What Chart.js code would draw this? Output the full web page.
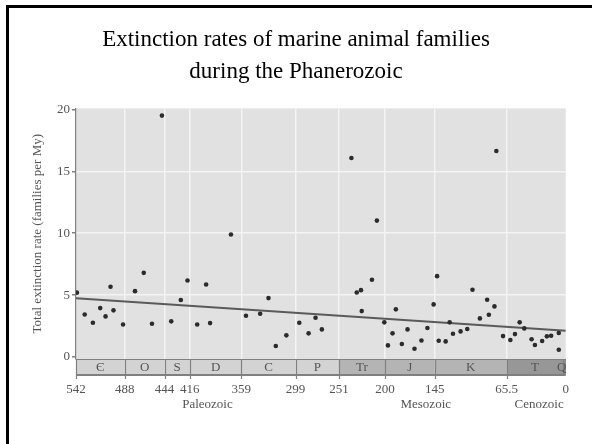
<!DOCTYPE html>
<html>
<head>
<meta charset="utf-8">
<script src="https://cdn.jsdelivr.net/npm/chart.js@4/dist/chart.umd.min.js"></script>
<style>
  body { margin: 0; background: #fff; }
  canvas { display: block; }
</style>
</head>
<body>
<canvas id="myChart" width="592" height="444"></canvas>
<script>
// ages in My before present, extinction rate in families per My
var ages = [541, 532.4, 523.3, 515.2, 509.3, 503.8, 500.5, 489.9, 476.7, 467,
  457.9, 446.9, 436.6, 426, 418.6, 407.9, 398, 393.6, 370.5, 353.9,
  338.2, 329, 320.9, 309.2, 294.9, 284.6, 276.9, 269.9, 237.2, 231.3,
  226.6, 225.8, 214.5, 209, 200.8, 196.8, 191.7, 188, 181.4, 175.1,
  167.4, 159.7, 153.1, 146.2, 142.4, 140.6, 132.9, 128.5, 124.8, 116.4,
  109, 103.2, 95, 87, 85.1, 78.9, 76.8, 69.4, 61.3, 56.2,
  51, 45.9, 37.8, 34.1, 26.1, 20.9, 16.2, 7.7, 7.7];
var rates = [5.2, 3.44, 2.77, 3.95, 3.28, 5.67, 3.77, 2.63, 5.32, 6.8,
  2.69, 19.5, 2.88, 4.6, 6.18, 2.63, 5.86, 2.74, 9.9, 3.33,
  3.49, 4.76, 0.89, 1.75, 2.77, 1.91, 3.17, 2.23, 16.08, 5.21,
  5.4, 3.71, 6.24, 11.02, 2.8, 0.94, 1.91, 3.85, 1.05, 2.23,
  0.67, 1.34, 2.34, 4.25, 6.53, 1.31, 1.26, 2.8, 1.88, 2.07,
  2.26, 5.43, 3.12, 4.62, 3.41, 4.09, 16.64, 1.69, 1.37, 1.85,
  2.8, 2.31, 1.43, 0.97, 1.29, 1.67, 1.72, 1.94, 0.59];

// fitted trend line
var trendAges = [542, 0];
var trendRates = [4.75, 2.12];

// geologic periods
var periodNames = ['Є', 'O', 'S', 'D', 'C', 'P', 'Tr', 'J', 'K', 'T', 'Q'];
var periodStart = [542, 488, 444, 416, 359, 299, 251, 200, 145, 65.5, 2.6];
var periodEnd = [488, 444, 416, 359, 299, 251, 200, 145, 65.5, 2.6, 0];
var periodEra = [0, 0, 0, 0, 0, 0, 1, 1, 1, 2, 2];

var eraNames = ['Paleozoic', 'Mesozoic', 'Cenozoic'];
var eraStart = [542, 251, 65.5];
var eraEnd = [251, 65.5, 0];
var eraColors = ['#d3d3d3', '#b4b4b4', '#979797'];

var xTicks = [542, 488, 444, 416, 359, 299, 251, 200, 145, 65.5, 0];
var yTicks = [0, 5, 10, 15, 20];

var serif = "'Liberation Serif', 'DejaVu Serif', serif";

var points = ages.map(function (a, i) { return { x: a, y: rates[i] }; });
var trend = trendAges.map(function (a, i) { return { x: a, y: trendRates[i] }; });

var bandTop = 359, bandBottom = 375;

var decorPlugin = {
  id: 'decor',
  beforeDraw: function (chart) {
    var ctx = chart.ctx, a = chart.chartArea;
    ctx.save();
    // frame
    ctx.fillStyle = '#000';
    ctx.fillRect(6, 5, 586, 3);
    ctx.fillRect(6, 5, 3, 439);
    // plot background
    ctx.fillStyle = '#e1e1e1';
    ctx.fillRect(a.left, a.top, a.right - a.left, a.bottom - a.top);
    ctx.restore();
  },
  afterDraw: function (chart) {
    var ctx = chart.ctx, x = chart.scales.x;
    ctx.save();
    var left = x.getPixelForValue(542), right = x.getPixelForValue(0);
    // period band
    for (var i = 0; i < periodNames.length; i++) {
      var x0 = x.getPixelForValue(periodStart[i]);
      var x1 = x.getPixelForValue(periodEnd[i]);
      ctx.fillStyle = eraColors[periodEra[i]];
      ctx.fillRect(x0, bandTop, x1 - x0, bandBottom - bandTop);
    }
    ctx.strokeStyle = '#808080';
    ctx.lineWidth = 1;
    ctx.beginPath();
    ctx.moveTo(left, bandTop + 0.5);
    ctx.lineTo(right, bandTop + 0.5);
    ctx.moveTo(right - 0.5, bandTop);
    ctx.lineTo(right - 0.5, bandBottom);
    ctx.stroke();
    ctx.lineWidth = 2;
    ctx.beginPath();
    ctx.moveTo(left, bandBottom);
    ctx.lineTo(right, bandBottom);
    ctx.stroke();
    // boundaries with ticks below the band
    ctx.lineWidth = 1.2;
    ctx.beginPath();
    for (var j = 1; j < periodStart.length; j++) {
      var bx = Math.round(x.getPixelForValue(periodStart[j])) + 0.5;
      var bottom = periodStart[j] === 2.6 ? bandBottom : bandBottom + 4;
      ctx.moveTo(bx, bandTop);
      ctx.lineTo(bx, bottom);
    }
    ctx.moveTo(left + 0.5, bandTop);
    ctx.lineTo(left + 0.5, bandBottom + 4);
    ctx.stroke();
    // period labels
    ctx.fillStyle = '#555';
    ctx.font = '13px ' + serif;
    ctx.textAlign = 'center';
    ctx.textBaseline = 'middle';
    for (var k = 0; k < periodNames.length; k++) {
      var cx = x.getPixelForValue((periodStart[k] + periodEnd[k]) / 2);
      if (periodNames[k] === 'Q') cx -= 3;
      ctx.fillText(periodNames[k], cx, (bandTop + bandBottom) / 2 + 0.5);
    }
    // era labels
    for (var e = 0; e < eraNames.length; e++) {
      var ex = x.getPixelForValue((eraStart[e] + eraEnd[e]) / 2);
      if (e > 0) ex += 3;
      ctx.fillText(eraNames[e], ex, 405);
    }
    ctx.restore();
  }
};

var context = document.getElementById('myChart').getContext('2d');
var myChart = new Chart(context, {
  type: 'scatter',
  data: {
    datasets: [
      {
        label: 'extinction rate',
        data: points,
        backgroundColor: '#2b2b2b',
        borderWidth: 0,
        pointRadius: 2.3,
        pointHoverRadius: 2.3,
      },
      {
        type: 'line',
        label: 'trend',
        data: trend,
        borderColor: '#5a5a5a',
        borderWidth: 2,
        pointRadius: 0,
        fill: false,
      },
    ],
  },
  options: {
    responsive: false,
    animation: false,
    events: [],
    layout: { padding: { left: 24, right: 24, top: 0, bottom: 0 } },
    plugins: {
      legend: { display: false },
      tooltip: { enabled: false },
      title: {
        display: true,
        text: ['Extinction rates of marine animal families', 'during the Phanerozoic'],
        color: '#000',
        font: { family: serif, size: 23, weight: 'normal', lineHeight: 1.4 },
        padding: { top: 24, bottom: 20 },
      },
    },
    scales: {
      x: {
        type: 'linear',
        min: 0,
        max: 542,
        reverse: true,
        afterBuildTicks: function (scale) {
          scale.ticks = xTicks.map(function (v) { return { value: v }; });
        },
        afterFit: function (scale) { scale.height = 85; },
        grid: {
          color: function (c) {
            var v = c.tick ? c.tick.value : null;
            return (v === 542 || v === 0) ? 'rgba(0,0,0,0)' : '#f4f4f4';
          },
          lineWidth: 1.5,
          drawTicks: false,
        },
        border: { display: false },
        ticks: {
          autoSkip: false,
          maxRotation: 0,
          padding: 23,
          color: '#555',
          font: { family: serif, size: 13 },
          callback: function (v) { return String(v); },
        },
      },
      y: {
        min: -0.16,
        max: 20.08,
        afterBuildTicks: function (scale) {
          scale.ticks = yTicks.map(function (v) { return { value: v }; });
        },
        afterFit: function (scale) { scale.width = 52; },
        grid: {
          color: function (c) {
            var v = c.tick ? c.tick.value : null;
            return (v === 5 || v === 10 || v === 15) ? '#f4f4f4' : 'rgba(0,0,0,0)';
          },
          lineWidth: 1.5,
          tickColor: '#808080',
          tickLength: 4,
        },
        border: { display: true, color: '#808080', width: 1.2 },
        ticks: {
          padding: 2,
          color: '#555',
          font: { family: serif, size: 13 },
        },
        title: {
          display: true,
          text: 'Total extinction rate (families per My)',
          color: '#555',
          font: { family: serif, size: 13 },
          padding: { top: 6, bottom: 0 },
        },
      },
    },
  },
  plugins: [decorPlugin],
});
</script>
</body>
</html>
